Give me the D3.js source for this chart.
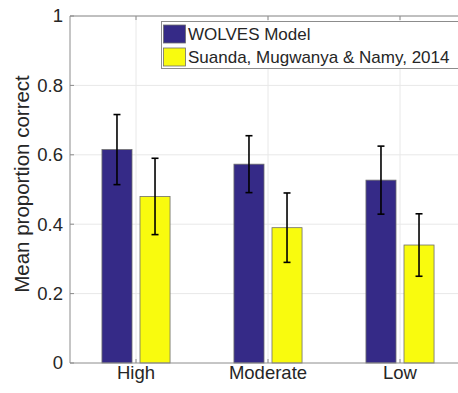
<!DOCTYPE html>
<html>
<head>
<meta charset="utf-8">
<script src="https://cdn.jsdelivr.net/npm/d3@7"></script>
<style>
  body { margin: 0; background: #fff; }
  text { font-family: "Liberation Sans", Arial, Helvetica, sans-serif; fill: #262626; }
</style>
</head>
<body>
<div id="chart"></div>
<script>
// chart data
var categories = ["High", "Moderate", "Low"];
var seriesNames = ["WOLVES Model", "Suanda, Mugwanya & Namy, 2014"];
var wolvesMean = [0.615, 0.573, 0.527];
var wolvesErr = [0.101, 0.082, 0.098];
var suandaMean = [0.480, 0.390, 0.340];
var suandaErr = [0.110, 0.100, 0.090];
var yTicks = [0, 0.2, 0.4, 0.6, 0.8, 1];
var yTickLabels = ["0", "0.2", "0.4", "0.6", "0.8", "1"];

// settings
var width = 458;
var height = 393;
var plot_left = 70, plot_top = 16, plot_bottom = 363, plot_right = 466;
var colors = ["#352a87", "#f9fb0e"];
var bar_edge = "#6e6e6e";
var axis_color = "#8c8c8c";
var grid_color = "#e8e8e8";

var svg = d3.select("#chart").append("svg")
    .attr("width", width)
    .attr("height", height);

var x = d3.scaleBand().domain(categories).range([plot_left, plot_right]).padding(0);
var xs = d3.scaleBand().domain(seriesNames).range([0, x.bandwidth()])
    .paddingInner(0.21).paddingOuter(0.84);
var y = d3.scaleLinear().domain([0, 1]).range([plot_bottom, plot_top]);

// grid
svg.append("g").selectAll("line")
    .data(yTicks.slice(1))
    .enter().append("line")
    .attr("x1", plot_left).attr("x2", plot_right)
    .attr("y1", function(d) { return y(d); })
    .attr("y2", function(d) { return y(d); })
    .attr("stroke", grid_color);
svg.append("g").selectAll("line")
    .data(categories)
    .enter().append("line")
    .attr("x1", function(d) { return x(d) + x.bandwidth() / 2; })
    .attr("x2", function(d) { return x(d) + x.bandwidth() / 2; })
    .attr("y1", plot_top).attr("y2", plot_bottom)
    .attr("stroke", grid_color);

// bars
var flat = [];
categories.forEach(function(c, i) {
    flat.push({cat: c, s: seriesNames[0], v: wolvesMean[i], e: wolvesErr[i], col: colors[0]});
    flat.push({cat: c, s: seriesNames[1], v: suandaMean[i], e: suandaErr[i], col: colors[1]});
});

svg.append("g").selectAll("rect")
    .data(flat)
    .enter().append("rect")
    .attr("x", function(d) { return x(d.cat) + xs(d.s); })
    .attr("width", xs.bandwidth())
    .attr("y", function(d) { return y(d.v); })
    .attr("height", function(d) { return y(0) - y(d.v); })
    .attr("fill", function(d) { return d.col; })
    .attr("stroke", bar_edge)
    .attr("stroke-width", 0.8);

// error bars
var eb = svg.append("g").attr("stroke", "#000").attr("stroke-width", 1.6);
flat.forEach(function(d) {
    var cx = x(d.cat) + xs(d.s) + xs.bandwidth() / 2;
    eb.append("line").attr("x1", cx).attr("x2", cx)
        .attr("y1", y(d.v + d.e)).attr("y2", y(d.v - d.e));
    [d.v + d.e, d.v - d.e].forEach(function(t) {
        eb.append("line").attr("x1", cx - 3.5).attr("x2", cx + 3.5)
            .attr("y1", y(t)).attr("y2", y(t));
    });
});

// axes lines
svg.append("line").attr("x1", plot_left).attr("x2", plot_left).attr("y1", plot_top).attr("y2", plot_bottom)
    .attr("stroke", axis_color);
svg.append("line").attr("x1", plot_left).attr("x2", plot_right).attr("y1", plot_bottom).attr("y2", plot_bottom)
    .attr("stroke", axis_color);
svg.append("line").attr("x1", plot_left).attr("x2", plot_right).attr("y1", plot_top).attr("y2", plot_top)
    .attr("stroke", axis_color);

// ticks inside
yTicks.forEach(function(t) {
    svg.append("line").attr("x1", plot_left).attr("x2", plot_left + 4)
        .attr("y1", y(t)).attr("y2", y(t)).attr("stroke", axis_color);
});
categories.forEach(function(c) {
    var cx = x(c) + x.bandwidth() / 2;
    svg.append("line").attr("x1", cx).attr("x2", cx)
        .attr("y1", plot_bottom).attr("y2", plot_bottom - 4).attr("stroke", axis_color);
    svg.append("line").attr("x1", cx).attr("x2", cx)
        .attr("y1", plot_top).attr("y2", plot_top + 4).attr("stroke", axis_color);
});

// tick labels
svg.append("g").selectAll("text")
    .data(yTicks)
    .enter().append("text")
    .attr("x", plot_left - 7)
    .attr("y", function(d) { return y(d); })
    .attr("dy", "0.35em")
    .attr("text-anchor", "end")
    .style("font-size", "18.5px")
    .text(function(d, i) { return yTickLabels[i]; });

svg.append("g").selectAll("text")
    .data(categories)
    .enter().append("text")
    .attr("x", function(d) { return x(d) + x.bandwidth() / 2; })
    .attr("y", 379)
    .attr("text-anchor", "middle")
    .style("font-size", "18.5px")
    .text(function(d) { return d; });

// y axis label
svg.append("text")
    .attr("transform", "translate(29,184) rotate(-90)")
    .attr("text-anchor", "middle")
    .style("font-size", "20.5px")
    .text("Mean proportion correct");

// legend
var lg = svg.append("g");
lg.append("rect")
    .attr("x", 161.5).attr("y", 21.5)
    .attr("width", 300).attr("height", 47)
    .attr("fill", "#fff").attr("stroke", "#8c8c8c");
seriesNames.forEach(function(s, i) {
    var yy = 25 + i * 23;
    lg.append("rect")
        .attr("x", 163.5).attr("y", yy)
        .attr("width", 22).attr("height", 18)
        .attr("fill", colors[i]).attr("stroke", bar_edge).attr("stroke-width", 0.8);
    lg.append("text")
        .attr("x", 188).attr("y", yy + 9)
        .attr("dy", "0.35em")
        .style("font-size", "17px")
        .text(s);
});
</script>
</body>
</html>
